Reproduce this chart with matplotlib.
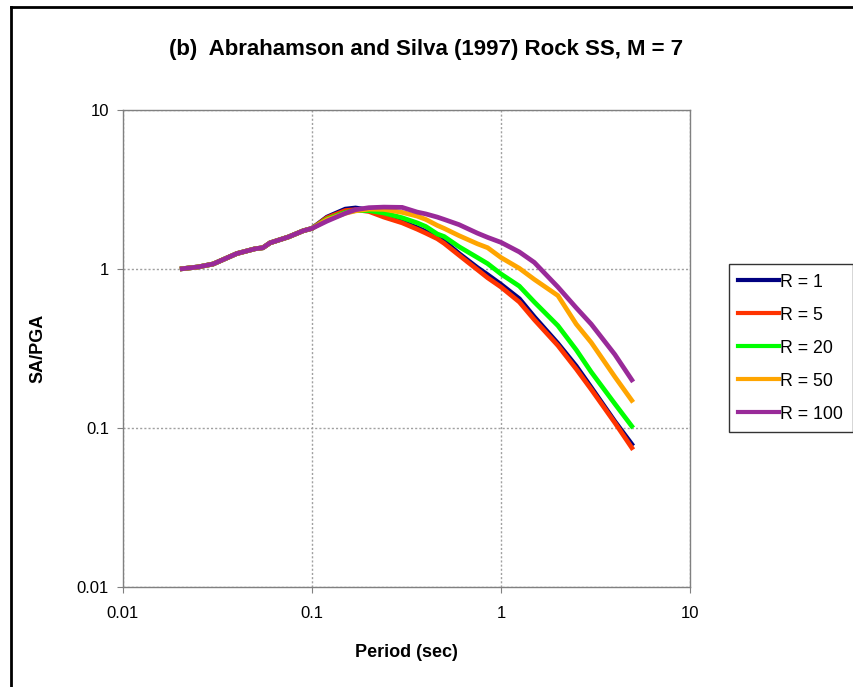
import matplotlib
matplotlib.use("Agg")
import matplotlib.pyplot as plt
from matplotlib.lines import Line2D

plt.rcParams['font.family'] = ['Liberation Sans', 'DejaVu Sans']

# Spectral periods (sec)
periods = [0.02, 0.025, 0.03, 0.04, 0.05, 0.055, 0.06, 0.075, 0.09, 0.1,
           0.12, 0.15, 0.17, 0.2, 0.24, 0.3, 0.36, 0.4, 0.46, 0.5,
           0.6, 0.75, 0.85, 1.0, 1.25, 1.5, 2.0, 2.5, 3.0, 4.0, 5.0]

# Shared short-period part (T <= 0.1 s)
common = [1.00, 1.03, 1.075, 1.25, 1.34, 1.36, 1.46, 1.59, 1.74, 1.80]

sa_r1 = common + [2.12, 2.38, 2.42, 2.35, 2.15, 1.98, 1.82, 1.72, 1.60, 1.50,
                  1.25, 1.02, 0.92, 0.80, 0.65, 0.50, 0.34, 0.245, 0.18, 0.11, 0.077]
sa_r5 = common + [2.10, 2.33, 2.36, 2.30, 2.12, 1.95, 1.78, 1.68, 1.55, 1.45,
                  1.22, 0.99, 0.88, 0.77, 0.62, 0.48, 0.33, 0.235, 0.175, 0.108, 0.073]
sa_r20 = common + [2.06, 2.27, 2.33, 2.33, 2.25, 2.10, 1.95, 1.85, 1.66, 1.60,
                   1.38, 1.18, 1.08, 0.93, 0.78, 0.62, 0.44, 0.31, 0.225, 0.142, 0.100]
sa_r50 = common + [2.04, 2.24, 2.32, 2.38, 2.37, 2.27, 2.15, 2.05, 1.88, 1.80,
                   1.62, 1.44, 1.36, 1.18, 1.01, 0.86, 0.68, 0.45, 0.345, 0.21, 0.145]
sa_r100 = common + [2.00, 2.24, 2.36, 2.43, 2.45, 2.44, 2.28, 2.22, 2.12, 2.05,
                    1.90, 1.68, 1.58, 1.47, 1.28, 1.10, 0.77, 0.57, 0.45, 0.29, 0.195]

labels = ["R = 1", "R = 5", "R = 20", "R = 50", "R = 100"]
colors = ["#000080", "#FF3300", "#00FF00", "#FFA500", "#992A99"]
series = [sa_r1, sa_r5, sa_r20, sa_r50, sa_r100]

tick_vals = [0.01, 0.1, 1, 10]
tick_labels = ["0.01", "0.1", "1", "10"]

fig = plt.figure(figsize=(8.54, 6.87), dpi=100)
ax = fig.add_axes([0.144, 0.1456, 0.664, 0.6943])

# Series drawn in order, so later (more distant) curves sit on top
for i in range(5):
    ax.plot(periods, series[i], color=colors[i], lw=3.4,
            solid_joinstyle='miter', solid_capstyle='butt', label=labels[i])

ax.set_xscale('log')
ax.set_yscale('log')
ax.set_xlim(0.01, 10)
ax.set_ylim(0.01, 10)
ax.set_xticks(tick_vals)
ax.set_xticklabels(tick_labels)
ax.set_yticks(tick_vals)
ax.set_yticklabels(tick_labels)
ax.minorticks_off()
ax.tick_params(axis='both', labelsize=12, direction='out', length=4,
               color='#808080', pad=6)
ax.tick_params(axis='x', pad=10)
ax.grid(True, which='major', color='#A0A0A0', linestyle=(0, (1.5, 1.5)), lw=1)
ax.set_axisbelow(True)
for s in ax.spines.values():
    s.set_color('#808080')
    s.set_linewidth(1)

ax.set_xlabel("Period (sec)", fontsize=13, fontweight='bold', labelpad=16)
ax.set_ylabel("SA/PGA", fontsize=13, fontweight='bold', labelpad=22)
fig.text(0.499, 0.928, "(b)  Abrahamson and Silva (1997) Rock SS, M = 7",
         ha='center', va='center', fontsize=16, fontweight='bold')

leg_handles = [Line2D([], [], color=colors[i], lw=3) for i in range(5)]
leg = fig.legend(leg_handles, labels, loc='upper right',
                 bbox_to_anchor=(0.9985, 0.616), fontsize=12.8,
                 frameon=True, fancybox=False, edgecolor='black',
                 handlelength=2.3, handletextpad=0.05, labelspacing=0.9,
                 borderpad=0.55, borderaxespad=0, handleheight=0.7)
leg.get_frame().set_linewidth(1)

# Outer frame (left and top edges)
fig.add_artist(Line2D([0.013, 0.013], [0, 0.99], transform=fig.transFigure,
                      color='black', lw=2))
fig.add_artist(Line2D([0.013, 1.0], [0.99, 0.99], transform=fig.transFigure,
                      color='black', lw=2))

fig.savefig("out.png", dpi=100)
